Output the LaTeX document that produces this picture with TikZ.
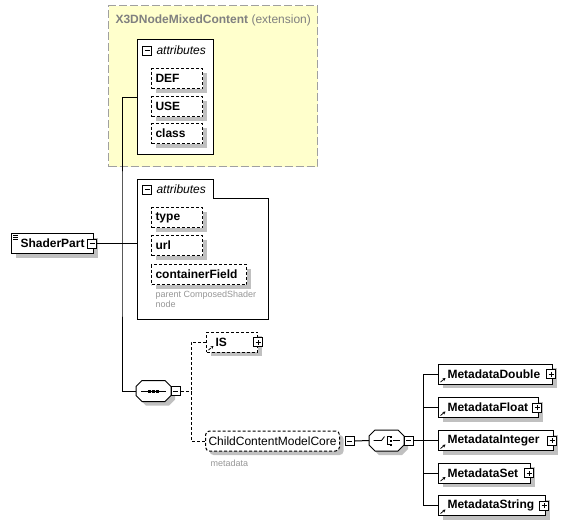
\documentclass[tikz,border=0pt]{standalone}
\usepackage{fontspec}
\setmainfont{Liberation Sans}
\definecolor{extYellow}{RGB}{255,255,204}
\definecolor{extGray}{RGB}{160,160,160}
\definecolor{titleGray}{RGB}{128,128,128}
\definecolor{noteGray}{RGB}{150,150,150}
\definecolor{shadowGray}{RGB}{192,192,192}
\usetikzlibrary{shadows,arrows.meta,calc}

\begin{document}
\begin{tikzpicture}[x=1pt, y=-1pt, line width=1pt,
  every node/.style={font=\fontsize{12}{14}\selectfont, inner sep=0pt},
  boxshadow/.style={general shadow={fill=shadowGray, shadow xshift=4pt, shadow yshift=-4pt}},
  attrbox/.style={draw, dash pattern=on 3pt off 2pt, fill=white, boxshadow, anchor=north west,
    minimum height=20pt, inner xsep=4pt, text width=#1, align=left, font=\fontsize{12}{14}\selectfont\bfseries},
  attrbox/.default=43pt,
  elembox/.style={draw, fill=white, boxshadow, anchor=west, minimum height=20pt, inner xsep=9pt,
    text width=#1, align=left, font=\fontsize{12}{14}\selectfont\bfseries,
    path picture={\draw[line width=0.8pt, -{Stealth[length=3pt, width=3pt]}]
      ([shift={(2pt,2pt)}]path picture bounding box.south west) -- ++(5pt,4pt);}},
  minusbox/.style={draw, solid, fill=white, minimum size=9pt, line width=0.8pt,
    path picture={\draw[line width=0.8pt] ([xshift=2pt]path picture bounding box.west) -- ([xshift=-2pt]path picture bounding box.east);}},
  plusbox/.style={draw, solid, fill=white, minimum size=9pt, line width=0.8pt,
    path picture={\draw[line width=0.8pt] ([xshift=2pt]path picture bounding box.west) -- ([xshift=-2pt]path picture bounding box.east)
      ([yshift=2pt]path picture bounding box.south) -- ([yshift=-2pt]path picture bounding box.north);}},
  modelbox/.style={minimum width=34pt, minimum height=20pt},
  note/.style={text=noteGray, align=left, font=\fontsize{9}{10}\selectfont},
  optline/.style={dash pattern=on 3pt off 2pt}]

  \useasboundingbox (0,0) rectangle (583,528);

  % extension base
  \node[draw=extGray, fill=extYellow, dash pattern=on 8pt off 3pt, minimum width=209pt, minimum height=161pt,
    anchor=north west] (ext) at (108,5) {};
  \node[anchor=west, text=titleGray] (extname) at (115,20) {\textbf{X3DNodeMixedContent} (extension)};

  \node[draw, fill=white, minimum width=76pt, minimum height=115pt, anchor=north west] (att1) at (137,39) {};
  \node[minusbox] (att1min) at (147,50.5) {};
  \node[anchor=west, font=\fontsize{12}{14}\selectfont\itshape] (att1lbl) at (156,50) {attributes};
  \node[attrbox] (def) at (151,68) {DEF};
  \node[attrbox] (use) at (151,96) {USE};
  \node[attrbox] (class) at (151,123) {class};

  % own attributes
  \node[minimum width=130pt, minimum height=139pt, anchor=north west] (att2) at (137,179) {};
  \draw[fill=white] (att2.north west) -- ++(76,0) -- ++(0,19) -| (att2.south east) -| (att2.north west);
  \node[minusbox] (att2min) at (147,189.5) {};
  \node[anchor=west, font=\fontsize{12}{14}\selectfont\itshape] (att2lbl) at (156,189) {attributes};
  \node[attrbox] (type) at (151,207) {type};
  \node[attrbox] (url) at (151,235) {url};
  \node[attrbox=87pt] (cfield) at (151,264) {containerField};
  \node[note, anchor=north west] (cfnote) at (155,290) {parent ComposedShader\\node};

  % element
  \node[draw, fill=white, boxshadow, anchor=north west, minimum height=20pt, inner xsep=9pt,
    font=\fontsize{12}{14}\selectfont\bfseries] (shader) at (11,233) {ShaderPart};
  \foreach \dy in {2,4,6}
    \draw[line width=0.6pt] ([shift={(2pt,-\dy pt)}]shader.north west) -- ++(5pt,0pt);
  \node[minusbox] (shadermin) at (92,243.5) {};

  % content model
  \node[modelbox, anchor=west] (seq) at (136,391) {};
  \node[modelbox, anchor=west] (choice) at (369,440.5) {};
  \foreach \m in {seq,choice}
    \draw[fill=white, boxshadow] ([xshift=6pt]\m.north west) -- ([xshift=-6pt]\m.north east)
      -- ([yshift=-6pt]\m.north east) -- ([yshift=6pt]\m.south east) -- ([xshift=-6pt]\m.south east)
      -- ([xshift=6pt]\m.south west) -- ([yshift=6pt]\m.south west) -- ([yshift=-6pt]\m.north west) -- cycle;

  \draw[line width=0.8pt] ([xshift=5pt]seq.west) -- ([xshift=-5pt]seq.east);
  \foreach \dx in {-4,0,4}
    \fill ([xshift=\dx pt]seq.center) +(-1.5pt,-1.5pt) rectangle +(1.5pt,1.5pt);
  \node[minusbox, anchor=west] (seqmin) at (seq.east) {};

  \node[elembox=33pt, optline] (is) at (206,342) {IS};
  \node[plusbox] (isplus) at (is.east) {};

  \node[draw, optline, rounded corners=4pt, fill=white, boxshadow, anchor=west, minimum height=20pt,
    inner xsep=3pt] (ccmc) at (205,441) {ChildContentModelCore};
  \node[minusbox, anchor=west] (ccmcmin) at ([xshift=5pt]ccmc.east) {};
  \node[note, anchor=west] (ccmcnote) at (210,463) {metadata};

  \draw[line width=0.8pt] ([xshift=-13pt]choice.center) -- ++(8pt,0pt) -- ++(3pt,4pt);
  \draw[line width=0.8pt] ([shift={(3pt,4pt)}]choice.center) -| ([shift={(1pt,-4pt)}]choice.center) -- ++(2pt,0pt);
  \foreach \dy in {-4,0,4}
    \fill ([shift={(4.5pt,\dy pt)}]choice.center) +(-1pt,-1pt) rectangle +(1pt,1pt);
  \draw[line width=0.8pt] ([xshift=6pt]choice.center) -- ([xshift=13pt]choice.center);
  \node[minusbox, anchor=west] (choicemin) at (choice.east) {};

  \node[elembox=96pt] (mdd) at (438,374) {MetadataDouble};
  \node[plusbox] (mddplus) at ([xshift=-2pt]mdd.east) {};
  \node[elembox=82pt] (mdf) at (438,407.5) {MetadataFloat};
  \node[plusbox] (mdfplus) at ([xshift=-2pt]mdf.east) {};
  \node[elembox=97pt] (mdi) at (438,440.5) {MetadataInteger};
  \node[plusbox] (mdiplus) at ([xshift=-2pt]mdi.east) {};
  \node[elembox=74pt] (mds) at (438,473) {MetadataSet};
  \node[plusbox] (mdsplus) at ([xshift=-2pt]mds.east) {};
  \node[elembox=89pt] (mdstr) at (438,505.5) {MetadataString};
  \node[plusbox] (mdstrplus) at ([xshift=-2pt]mdstr.east) {};

  % connectors
  \coordinate (bus) at (122,243.5);
  \coordinate (seqbus) at (191,391);
  \coordinate (choicebus) at (423,440.5);
  \draw (shadermin.east) -- (shadermin.east -| att2.west);
  \draw (att1.west) -| (bus) |- (seq.west);
  \draw[optline] (seqmin.east) -- (seqbus);
  \draw[optline] (is.west) -| (seqbus) |- (ccmc.west);
  \draw (ccmcmin.east) -- (choice.west);
  \draw (choicemin.east) -- (choicebus);
  \foreach \n in {mdd,mdf,mdi,mds,mdstr}
    \draw (\n.west) -| (choicebus);
\end{tikzpicture}
\end{document}
